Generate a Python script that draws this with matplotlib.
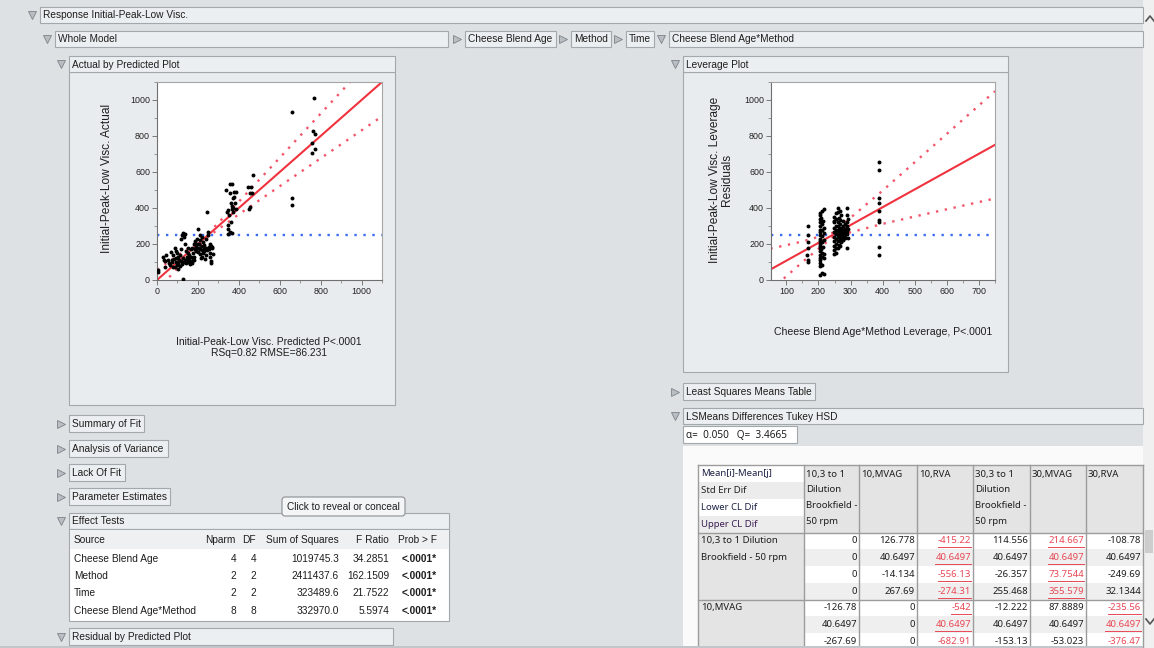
import matplotlib
matplotlib.use("Agg")
import matplotlib.pyplot as plt
from matplotlib.patches import Rectangle, FancyBboxPatch
from matplotlib.ticker import MultipleLocator

plt.rcParams['font.family'] = ['Liberation Sans', 'DejaVu Sans']

# ===== Actual by Predicted data =====
pred = [5, 5, 29, 33, 38, 45, 60, 70, 75, 78, 80, 87, 90, 92, 95, 98, 100, 102, 105, 108,
        110, 112, 115, 118, 120, 122, 125, 125, 128, 130, 132, 135, 138, 140, 142, 145, 148, 150, 152, 155,
        158, 160, 165, 168, 170, 175, 178, 180, 185, 188, 190, 192, 195, 198, 200, 200, 205, 208, 210, 212,
        215, 218, 220, 222, 225, 228, 230, 232, 235, 238, 240, 242, 246, 248, 250, 252, 255, 258, 260, 262,
        265, 266, 268, 270, 272, 258, 238, 215, 195, 182, 172, 162, 150, 135, 115, 105, 95, 85, 72, 65,
        55, 40, 180, 210, 225,
        339, 345, 343, 345, 345, 345, 359, 369, 355, 360, 365, 370, 362, 358, 365, 378, 388, 382, 386, 375,
        370, 366, 372, 350, 447, 455, 465, 470, 458, 450, 456,
        662, 662, 662, 766, 762, 772, 760, 760, 772]
actual = [58, 45, 125, 110, 72, 140, 95, 156, 113, 137, 70, 72, 175, 100, 120, 85, 150, 130, 95, 110,
          75, 140, 105, 230, 90, 250, 8, 262, 120, 240, 100, 255, 110, 160, 95, 130, 115, 180, 100, 120,
          140, 105, 170, 125, 95, 150, 110, 200, 215, 170, 160, 185, 230, 175, 286, 155, 200, 170, 145, 220,
          190, 165, 240, 125, 210, 175, 160, 195, 115, 180, 230, 165, 378, 250, 265, 185, 170, 125, 150, 190,
          93, 105, 180, 185, 145, 200, 140, 120, 200, 130, 180, 90, 150, 200, 170, 60, 160, 115, 100, 85,
          110, 105, 110, 250, 150,
          499, 390, 380, 304, 286, 253, 536, 536, 481, 425, 397, 378, 323, 267, 260, 490, 490, 425, 397, 460,
          455, 410, 400, 360, 518, 481, 481, 583, 518, 397, 404,
          932, 456, 416, 1009, 828, 809, 759, 703, 727]
fit_x = [0, 1100]
fit_y = [0, 1100]
ci_x = [0, 150, 250, 400, 600, 800, 1100]
ci_upper = [57, 174, 259, 435, 679, 924, 1291]
ci_lower = [-57, 126, 241, 365, 521, 676, 909]
mean_actual = 250

# ===== Leverage plot data =====
lev_x = [166, 166, 167, 166, 165, 166, 167,
         204, 205, 204, 206, 205, 204, 205, 206, 204, 205, 206, 204, 205, 206, 204, 205, 204, 206, 205, 204,
         210, 211, 210, 209, 211, 210, 210, 211, 209, 210, 211,
         216, 216, 217, 215, 216, 217, 216, 215, 216,
         247, 248, 248, 247, 249, 248, 247, 248, 249, 248,
         255, 256, 255, 254, 256, 255, 255, 256, 254,
         262, 263, 262, 261, 263, 262, 262, 263, 261, 262, 263, 262, 262,
         268, 269, 268, 267, 269, 268, 268, 269, 267, 268, 269, 268,
         275, 276, 275, 274, 276, 275, 275,
         282, 283, 282, 281, 283, 282,
         290, 291, 290, 289, 291, 290, 290, 291, 289, 290,
         388, 388, 387, 388, 388, 387, 388, 388, 388]
lev_y = [301, 249, 212, 175, 137, 110, 100,
         30, 75, 95, 120, 140, 160, 180, 200, 215, 230, 250, 265, 280, 300, 320, 340, 360, 370, 110, 190,
         40, 85, 130, 170, 210, 245, 275, 310, 345, 385, 150,
         36, 120, 145, 185, 220, 260, 290, 330, 392,
         145, 165, 190, 215, 240, 265, 290, 320, 350, 330,
         150, 175, 200, 230, 255, 280, 300, 340, 370,
         175, 195, 215, 240, 250, 260, 270, 285, 300, 320, 345, 375, 400,
         190, 210, 230, 245, 255, 265, 275, 290, 310, 335, 360, 385,
         220, 240, 255, 265, 280, 300, 325,
         235, 250, 260, 270, 285, 310,
         175, 235, 255, 270, 285, 300, 320, 340, 360, 400,
         141, 182, 323, 332, 382, 425, 456, 612, 653]
lev_fit_x = [50, 750]
lev_fit_y = [58, 751]
lev_ci_x = [50, 150, 245, 400, 550, 750]
lev_ci_upper = [174, 214, 263, 497, 733, 1049]
lev_ci_lower = [-58, 100, 239, 312, 373, 453]
lev_mean = 250

# ===== Effect Tests =====
effect_source = ['Cheese Blend Age', 'Method', 'Time', 'Cheese Blend Age*Method']
effect_nparm = [4, 2, 2, 8]
effect_df = [4, 2, 2, 8]
effect_ss = ['1019745.3', '2411437.6', '323489.6', '332970.0']
effect_f = ['34.2851', '162.1509', '21.7522', '5.5974']
effect_p = ['<.0001*', '<.0001*', '<.0001*', '<.0001*']

# ===== LSMeans Differences Tukey HSD =====
ls_legend = ['Mean[i]-Mean[j]', 'Std Err Dif', 'Lower CL Dif', 'Upper CL Dif']
ls_cols = [['10,3 to 1', 'Dilution', 'Brookfield -', '50 rpm'], ['10,MVAG'], ['10,RVA'],
           ['30,3 to 1', 'Dilution', 'Brookfield -', '50 rpm'], ['30,MVAG'], ['30,RVA']]
ls_rows = [['10,3 to 1 Dilution', 'Brookfield - 50 rpm'], ['10,MVAG']]
ls_block1 = [['0', '126.778', '-415.22', '114.556', '214.667', '-108.78'],
             ['0', '40.6497', '40.6497', '40.6497', '40.6497', '40.6497'],
             ['0', '-14.134', '-556.13', '-26.357', '73.7544', '-249.69'],
             ['0', '267.69', '-274.31', '255.468', '355.579', '32.1344']]
ls_block2 = [['-126.78', '0', '-542', '-12.222', '87.8889', '-235.56'],
             ['40.6497', '0', '40.6497', '40.6497', '40.6497', '40.6497'],
             ['-267.69', '0', '-682.91', '-153.13', '-53.023', '-376.47']]
ls_sig1 = [False, False, True, False, True, False]
ls_sig2 = [False, False, True, False, False, True]

# ===== Фігура =====
W, H = 1154, 648
BG = '#dde1e4'
PANEL = '#e9ecee'
HDR = '#eceff1'
EDGE = '#a3a8ad'
TXT = '#1e1e1e'
RED = '#e84855'
FS = 7.3      # UI text
TFS = 6.9     # LSMeans table text

fig = plt.figure(figsize=(W / 100, H / 100), dpi=100)
fig.patch.set_facecolor(BG)
ui = fig.add_axes([0, 0, 1, 1])
ui.set_xlim(0, W)
ui.set_ylim(H, 0)
ui.axis('off')


def rect(x0, y0, x1, y1, fc, ec=EDGE, lw=0.8, z=1):
    ui.add_patch(Rectangle((x0, y0), x1 - x0, y1 - y0, facecolor=fc, edgecolor=ec, linewidth=lw, zorder=z))


def header(x0, x1, y0, y1, label, opened=True):
    ui.plot(x0 - 8, (y0 + y1) / 2, marker='v' if opened else '>', ms=5.5,
            mfc='#b9bec3', mec='#7d8389', mew=0.6, zorder=3)
    rect(x0, y0, x1, y1, HDR)
    ui.text(x0 + 3, (y0 + y1) / 2 + 0.5, label, fontsize=FS, va='center', ha='left', color=TXT, zorder=4)


# scrollbar column
rect(1143, 0, 1154, 648, '#f0f0f0', ec='none')
ui.plot([1146, 1150, 1154], [21, 16, 21], color='#555', lw=1.2)
ui.plot([1146, 1150, 1154], [619, 624, 619], color='#555', lw=1.2)
rect(1145, 530, 1153, 553, '#cdcdcd', ec='none', z=2)

header(40, 1143, 7, 23, 'Response Initial-Peak-Low Visc.')
header(55, 448, 31, 47, 'Whole Model')
header(465, 556, 31, 47, 'Cheese Blend Age', False)
header(571, 611, 31, 47, 'Method', False)
header(626, 654, 31, 47, 'Time', False)
header(669, 1143, 31, 47, 'Cheese Blend Age*Method')

rect(69, 72, 395, 405, PANEL)
header(69, 395, 56, 72, 'Actual by Predicted Plot')
rect(683, 72, 1008, 372, PANEL)
header(683, 1008, 56, 72, 'Leverage Plot')
header(683, 815, 383, 400, 'Least Squares Means Table', False)
header(683, 1143, 408, 424, 'LSMeans Differences Tukey HSD')
rect(683, 446, 1143, 648, '#fafafa', ec='none')
rect(683, 426, 797, 443, 'white')
ui.text(686, 435, 'α=  0.050   Q=  3.4665', fontsize=7.2, va='center', color=TXT,
        family=['Noto Sans', 'DejaVu Sans'])

header(69, 144, 415, 432, 'Summary of Fit', False)
header(69, 168, 440, 457, 'Analysis of Variance', False)
header(69, 125, 464, 481, 'Lack Of Fit', False)
header(69, 170, 488, 505, 'Parameter Estimates', False)
header(69, 449, 513, 529, 'Effect Tests')
rect(69, 529, 449, 621, 'white')
rect(69.5, 529.5, 448.5, 549, '#eef0f1', ec='none')
header(69, 393, 628, 645, 'Residual by Predicted Plot')

tip = FancyBboxPatch((282, 497), 123, 19, boxstyle='round,pad=0,rounding_size=3',
                     facecolor='#f4f5f6', edgecolor='#8a8f94', linewidth=0.8, zorder=5)
ui.add_patch(tip)
ui.text(343.5, 506.5, 'Click to reveal or conceal', fontsize=FS, ha='center', va='center', color=TXT, zorder=6)

# ===== Effect Tests table =====
hy = 540
ui.text(74, hy, 'Source', fontsize=FS, va='center', color=TXT)
col_right = [236, 256, 339, 389, 437]
col_names = ['Nparm', 'DF', 'Sum of Squares', 'F Ratio', 'Prob > F']
for xr, name in zip(col_right, col_names):
    ui.text(xr, hy, name, fontsize=FS, va='center', ha='right', color=TXT)
row_y = [559, 576, 593, 611]
for i, y in enumerate(row_y):
    ui.text(74, y, effect_source[i], fontsize=FS, va='center', color=TXT)
    vals = [str(effect_nparm[i]), str(effect_df[i]), effect_ss[i], effect_f[i]]
    for xr, v in zip(col_right[:4], vals):
        ui.text(xr, y, v, fontsize=FS, va='center', ha='right', color=TXT)
    ui.text(col_right[4], y, effect_p[i], fontsize=FS, va='center', ha='right', color=TXT, weight='bold')

# ===== LSMeans table =====
TF = ['Noto Sans', 'DejaVu Sans']
xb = [698, 804, 859, 917, 973, 1030, 1086, 1143]
top, hbot, rh = 465, 532.5, 16.75
leg_col = ['#1f2347', '#222222', '#1f2347', '#3c1f52']
rect(xb[1], top, xb[-1], hbot, '#e4e4e4', ec='none', z=1.5)
for k in range(4):
    y0 = top + k * (hbot - top) / 4
    rect(xb[0], y0, xb[1], y0 + (hbot - top) / 4, 'white' if k % 2 == 0 else '#ececec', ec='none', z=1.5)
    ui.text(xb[0] + 3, y0 + 9, ls_legend[k], fontsize=TFS, va='center', color=leg_col[k], family=TF, zorder=4)
for j, lines in enumerate(ls_cols):
    for k, s in enumerate(lines):
        ui.text(xb[j + 1] + 2, 474 + 16 * k, s, fontsize=TFS, va='center', color=TXT, family=TF, zorder=4)

red_texts = []
for b, (block, sig, rlab) in enumerate(zip([ls_block1, ls_block2], [ls_sig1, ls_sig2], ls_rows)):
    by = hbot + b * 4 * rh
    rect(xb[0], by, xb[1], by + 4 * rh, '#e4e4e4', ec='none', z=1.5)
    for k, s in enumerate(rlab):
        ui.text(xb[0] + 3, by + rh * (k + 0.5), s, fontsize=TFS, va='center', color=TXT, family=TF, zorder=4)
    for k, row in enumerate(block):
        yc = by + rh * (k + 0.5)
        rect(xb[1], by + rh * k, xb[-1], by + rh * (k + 1), 'white' if k % 2 == 0 else '#efefef', ec='none', z=1.5)
        for j, v in enumerate(row):
            c = RED if sig[j] else TXT
            t = ui.text(xb[j + 2] - 2, yc, v, fontsize=TFS, va='center', ha='right', color=c, family=TF, zorder=4)
            if sig[j]:
                red_texts.append((t, yc))
    ui.plot([xb[0], xb[-1]], [by, by], color='#9c9c9c', lw=1, zorder=3)
for x in xb:
    ui.plot([x, x], [top, 648], color='#9c9c9c', lw=1, zorder=3)
ui.plot([xb[0], xb[-1]], [top, top], color='#9c9c9c', lw=1, zorder=3)

rect(0, 645.5, 1143, 648, '#c2c6ca', ec='none', z=8)

# ===== Actual by Predicted Plot =====
def style_axes(ax):
    ax.set_facecolor('white')
    for s in ax.spines.values():
        s.set_color('#a5a5a5')
        s.set_linewidth(0.8)
    ax.spines['left'].set_color('#707070')
    ax.spines['bottom'].set_color('#707070')
    ax.tick_params(which='major', labelsize=6.4, length=3.5, width=0.6, color='#666666', pad=1.5,
                   labelcolor='#222222')
    ax.tick_params(which='minor', length=2, width=0.6, color='#888888')


ax1 = fig.add_axes([157 / W, 1 - 280 / H, 225 / W, 198 / H])
style_axes(ax1)
ax1.axhline(mean_actual, color='#3a6df0', lw=1.7, ls=(0, (1, 2.8)), zorder=1)
ax1.plot(fit_x, fit_y, color='#f0323e', lw=1.5, zorder=2)
ax1.plot(ci_x, ci_upper, color='#f2566a', lw=1.7, ls=(0, (1, 2.8)), zorder=2)
ax1.plot(ci_x, ci_lower, color='#f2566a', lw=1.7, ls=(0, (1, 2.8)), zorder=2)
ax1.scatter(pred, actual, s=8, c='black', linewidths=0, zorder=3)
ax1.set_xlim(0, 1100)
ax1.set_ylim(0, 1100)
ax1.xaxis.set_major_locator(MultipleLocator(200))
ax1.xaxis.set_minor_locator(MultipleLocator(100))
ax1.yaxis.set_major_locator(MultipleLocator(200))
ax1.yaxis.set_minor_locator(MultipleLocator(100))

ui.text(107, 178, 'Initial-Peak-Low Visc. Actual', rotation=90, ha='center', va='center', fontsize=8.6, color=TXT)
ui.text(269, 342, 'Initial-Peak-Low Visc. Predicted P<.0001', ha='center', va='center', fontsize=7.4, color=TXT)
ui.text(269, 352.5, 'RSq=0.82 RMSE=86.231', ha='center', va='center', fontsize=7.4, color=TXT)

# ===== Leverage Plot =====
ax2 = fig.add_axes([771 / W, 1 - 280 / H, 224 / W, 198 / H])
style_axes(ax2)
ax2.axhline(lev_mean, color='#3a6df0', lw=1.7, ls=(0, (1, 2.8)), zorder=1)
ax2.plot(lev_fit_x, lev_fit_y, color='#f0323e', lw=1.5, zorder=2)
ax2.plot(lev_ci_x, lev_ci_upper, color='#f2566a', lw=1.7, ls=(0, (1, 2.8)), zorder=2)
ax2.plot(lev_ci_x, lev_ci_lower, color='#f2566a', lw=1.7, ls=(0, (1, 2.8)), zorder=2)
ax2.scatter(lev_x, lev_y, s=8, c='black', linewidths=0, zorder=3)
ax2.set_xlim(52, 750)
ax2.set_ylim(0, 1100)
ax2.xaxis.set_major_locator(MultipleLocator(100))
ax2.xaxis.set_minor_locator(MultipleLocator(50))
ax2.yaxis.set_major_locator(MultipleLocator(200))
ax2.yaxis.set_minor_locator(MultipleLocator(100))

ui.text(721, 180, 'Initial-Peak-Low Visc. Leverage\nResiduals', rotation=90, ha='center', va='center',
        multialignment='center', fontsize=8.6, linespacing=1.0, color=TXT)
ui.text(883, 332, 'Cheese Blend Age*Method Leverage, P<.0001', ha='center', va='center', fontsize=7.6, color=TXT)

# підкреслення значущих значень
fig.canvas.draw()
r = fig.canvas.get_renderer()
for t, yc in red_texts:
    bb = t.get_window_extent(r).transformed(ui.transData.inverted())
    ui.plot([bb.x0, bb.x1], [yc + 6.5, yc + 6.5], color=RED, lw=0.7, zorder=4)

fig.savefig('out.png', dpi=100, facecolor=fig.get_facecolor())
